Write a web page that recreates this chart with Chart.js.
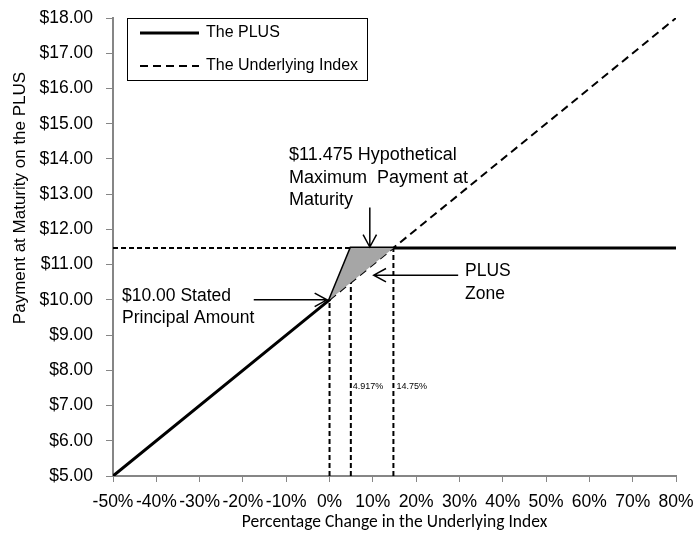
<!DOCTYPE html>
<html>
<head>
<meta charset="utf-8">
<script src="https://cdn.jsdelivr.net/npm/chart.js@4.4.1/dist/chart.umd.min.js"></script>
<style>
  html, body { margin: 0; padding: 0; background: #fff; }
  #wrap { width: 696px; height: 534px; }
</style>
</head>
<body>
<div id="wrap"><canvas id="plusChart" width="696" height="534"></canvas></div>
<script>
// payoff values
var plusX  = [-50, 0, 4.917, 80];
var plusY  = [5, 10, 11.475, 11.475];
var indexX = [0, 80];
var indexY = [10, 18];
var zoneX  = [0, 4.917, 14.75, 0];
var zoneY  = [10, 11.475, 11.475, 10];
var capPct = 4.917, zoneEnd = 14.75, maxPay = 11.475, principal = 10;
var xTicks = [-50, -40, -30, -20, -10, 0, 10, 20, 30, 40, 50, 60, 70, 80];
var yTicks = [5, 6, 7, 8, 9, 10, 11, 12, 13, 14, 15, 16, 17, 18];

var ARIAL = '"Liberation Sans", Arial, sans-serif';

function pts(xs, ys){
	return xs.map(function(x, i){ return {x: x, y: ys[i]}; });
}

var dashLine = function(data){
	return { data: data, borderColor: '#000', borderWidth: 2, borderDash: [5, 3],
		pointRadius: 0, fill: false, tension: 0 };
};

var datasets = [
	{ label: 'zone', data: pts(zoneX, zoneY), backgroundColor: '#a6a6a6', borderWidth: 0,
		borderColor: 'rgba(0,0,0,0)', pointRadius: 0, fill: 'shape', tension: 0 },
	dashLine(pts([-50, zoneEnd], [maxPay, maxPay])),
	dashLine(pts([0, 0], [5, principal])),
	dashLine(pts([capPct, capPct], [5, maxPay])),
	dashLine(pts([zoneEnd, zoneEnd], [5, maxPay])),
	{ label: 'The Underlying Index', data: pts(indexX, indexY), borderColor: '#000', borderWidth: 2,
		borderDash: [8, 5], pointRadius: 0, fill: false, tension: 0 },
	{ label: 'The PLUS', data: pts(plusX, plusY), borderColor: '#000', borderWidth: 3,
		pointRadius: 0, fill: false, tension: 0 }
];

function arrow(ctx, x1, y1, x2, y2){
	var a = Math.atan2(y2 - y1, x2 - x1), h = 14;
	ctx.beginPath();
	ctx.moveTo(x1, y1); ctx.lineTo(x2, y2);
	ctx.moveTo(x2 - h * Math.cos(a - 0.5), y2 - h * Math.sin(a - 0.5));
	ctx.lineTo(x2, y2);
	ctx.lineTo(x2 - h * Math.cos(a + 0.5), y2 - h * Math.sin(a + 0.5));
	ctx.stroke();
}

var notes = {
	id: 'notes',
	afterDatasetsDraw: function(chart){
		var ctx = chart.ctx, xs = chart.scales.x, ys = chart.scales.y;
		var X = function(v){ return xs.getPixelForValue(v); };
		var Y = function(v){ return ys.getPixelForValue(v); };
		ctx.save();
		ctx.fillStyle = '#000';
		ctx.strokeStyle = '#000';
		ctx.textBaseline = 'middle';

		// y axis title (sits above the axis centre in the original)
		ctx.save();
		ctx.translate(20, 198);
		ctx.rotate(-Math.PI / 2);
		ctx.textAlign = 'center';
		ctx.font = '17px ' + ARIAL;
		ctx.fillText('Payment at Maturity on the PLUS', 0, 0);
		ctx.restore();

		ctx.font = '18px ' + ARIAL;
		ctx.fillText('$11.475 Hypothetical', 289, 155);
		ctx.fillText('Maximum  Payment at', 289, 178);
		ctx.fillText('Maturity', 289, 200);
		ctx.font = '17.5px ' + ARIAL;
		ctx.fillText('$10.00 Stated', 122, 296);
		ctx.fillText('Principal Amount', 122, 318);
		ctx.fillText('PLUS', 465, 271);
		ctx.fillText('Zone', 465, 294);
		ctx.font = '9px ' + ARIAL;
		ctx.fillText('4.917%', X(capPct) + 2, 387);
		ctx.fillText('14.75%', X(zoneEnd) + 3, 387);

		ctx.lineWidth = 1.5;
		arrow(ctx, X(9.3), Y(12.62), X(9.3), Y(11.5));
		arrow(ctx, X(-17.5), Y(10.0), X(-0.6), Y(10.0));
		arrow(ctx, X(29.7), Y(10.7), X(10.2), Y(10.7));

		// legend box
		ctx.lineWidth = 1;
		ctx.strokeRect(127.5, 18.5, 240, 62);
		ctx.lineWidth = 3;
		ctx.beginPath(); ctx.moveTo(140, 33); ctx.lineTo(199, 33); ctx.stroke();
		ctx.lineWidth = 2;
		ctx.setLineDash([8, 5]);
		ctx.beginPath(); ctx.moveTo(140, 66); ctx.lineTo(199, 66); ctx.stroke();
		ctx.setLineDash([]);
		ctx.font = '16px ' + ARIAL;
		ctx.fillText('The PLUS', 206, 33);
		ctx.fillText('The Underlying Index', 206, 66);
		ctx.restore();
	}
};

var ctx = document.getElementById('plusChart').getContext('2d');
var plusChart = new Chart(ctx, {
	type: 'line',
	data: { datasets: datasets },
	options: {
		responsive: false,
		animation: false,
		layout: { padding: { top: 18, right: 20, left: 4, bottom: 0 } },
		plugins: { legend: { display: false }, tooltip: { enabled: false } },
		scales: {
			x: {
				type: 'linear', min: -50, max: 80,
				afterBuildTicks: function(axis){ axis.ticks = xTicks.map(function(v){ return {value: v}; }); },
				afterFit: function(axis){ axis.height = 58; axis.paddingLeft = 0; axis.paddingRight = 0; },
				grid: { drawOnChartArea: false, drawTicks: true, tickLength: 6, color: '#868686' },
				border: { color: '#868686', width: 2 },
				ticks: { autoSkip: false, maxRotation: 0, padding: 10, color: '#000',
					font: { family: ARIAL, size: 17.5 },
					callback: function(v){ return v + '%'; } },
				title: { display: true, text: 'Percentage Change in the Underlying Index', color: '#000',
					font: { family: 'Carlito, Lato, sans-serif', size: 17.5 }, padding: { top: 7, bottom: 1 } }
			},
			y: {
				type: 'linear', min: 5, max: 18,
				afterBuildTicks: function(axis){ axis.ticks = yTicks.map(function(v){ return {value: v}; }); },
				afterFit: function(axis){ axis.width = 109; axis.paddingTop = 0; axis.paddingBottom = 0; },
				grid: { drawOnChartArea: false, drawTicks: true, tickLength: 7, color: '#868686' },
				border: { color: '#868686', width: 2 },
				ticks: { padding: 13, color: '#000',
					font: { family: ARIAL, size: 17.5 },
					callback: function(v){ return '$' + v.toFixed(2); } }
			}
		}
	},
	plugins: [notes]
});
</script>
</body>
</html>
